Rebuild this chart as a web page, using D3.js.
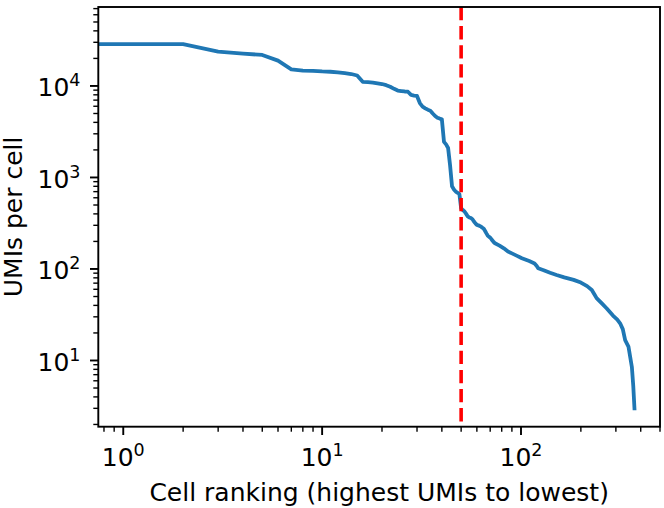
<!DOCTYPE html>
<html>
<head>
<meta charset="utf-8">
<script src="https://cdn.jsdelivr.net/npm/d3@7"></script>
<style>
  html, body { margin: 0; padding: 0; background: #fff; }
  svg { display: block; }
  text { font-family: "DejaVu Sans", sans-serif; fill: #000; }
</style>
</head>
<body>
<script>
// ---- data ----
const ranks = [0, 1, 2, 3, 4, 5, 6, 7, 8, 9, 10, 11, 12, 13, 14, 15, 16, 17, 18, 19, 20,
  21, 22, 23, 24, 25, 26, 27, 28, 29, 30, 31, 32, 33, 34, 35, 36, 37, 38, 39, 40,
  41, 42, 43, 44, 45, 46, 47, 48, 49, 50, 51, 52, 53, 54, 55, 56, 57, 58, 59, 60,
  61, 62, 63, 64, 65, 66, 67, 68, 69, 70, 71, 72, 73, 74, 78, 82, 86, 90, 95, 101,
  110, 117, 120, 122, 130, 140, 151, 165, 184, 200, 215, 227, 235, 240, 255, 270,
  290, 305, 315, 325, 334, 347, 361, 367, 372];
const umis = [28600, 28600, 28600, 23700, 22600, 21800, 18900, 15200, 14700, 14600, 14400, 14300, 14100, 13800, 13500, 13000, 11100, 11000, 10900, 10700, 10500,
  10200, 9800, 9300, 8900, 8800, 8700, 8650, 7980, 7850, 7780, 6500, 5950, 5700, 5500, 5370, 5000, 4700, 4500, 4400, 4330,
  2450, 2300, 2100, 1350, 800, 740, 700, 680, 660, 460, 440, 425, 400, 375, 365, 360, 350, 330, 315, 303,
  300, 295, 290, 282, 275, 260, 245, 232, 225, 220, 212, 203, 196, 191, 180, 168, 155, 148, 140, 131,
  122, 115, 108, 102, 97, 91, 86, 81, 76, 71, 65, 59, 52, 48, 42, 37,
  31, 28, 25.5, 22, 16.7, 14.2, 8.5, 5.2, 3.0];
const cutoffRank = [50];
const xTickValues = [1, 10, 100];
const xTickExps = ["0", "1", "2"];
const yTickValues = [10, 100, 1000, 10000];
const yTickExps = ["1", "2", "3", "4"];
const xDomain = [0.749, 500];
const yDomain = [1.89, 72900];
const xLabel = "Cell ranking (highest UMIs to lowest)";
const yLabel = "UMIs per cell";

// ---- layout ----
const W = 664, H = 508;
const plot = { left: 98.3, right: 660, top: 7, bottom: 426.7 };

const svg = d3.select("body").append("svg").attr("width", W).attr("height", H);

const x = d3.scaleLog().domain(xDomain).range([plot.left, plot.right]);
const y = d3.scaleLog().domain(yDomain).range([plot.bottom, plot.top]);

const clipId = "plotclip";
svg.append("clipPath").attr("id", clipId).append("rect")
  .attr("x", plot.left).attr("y", plot.top)
  .attr("width", plot.right - plot.left).attr("height", plot.bottom - plot.top);

// minor tick values
function minorTicks(domain) {
  const out = [];
  const lo = Math.floor(Math.log10(domain[0])), hi = Math.ceil(Math.log10(domain[1]));
  for (let e = lo; e <= hi; e++) {
    for (let m = 2; m <= 9; m++) {
      const v = m * Math.pow(10, e);
      if (v >= domain[0] && v <= domain[1]) out.push(v);
    }
  }
  return out;
}

// ---- data line ----
const pts = ranks.map((r, i) => ({ r, v: umis[i] }));
const line = d3.line()
  .x(d => x(Math.max(d.r, xDomain[0])))
  .y(d => y(d.v));

const g = svg.append("g").attr("clip-path", `url(#${clipId})`);
g.append("path")
  .datum(pts)
  .attr("d", line)
  .attr("fill", "none")
  .attr("stroke", "#1f77b4")
  .attr("stroke-width", 3.8)
  .attr("stroke-linejoin", "round")
  .attr("stroke-linecap", "square");

// cutoff vertical dashed line
g.selectAll("line.cut").data(cutoffRank).enter().append("line")
  .attr("class", "cut")
  .attr("x1", d => x(d)).attr("x2", d => x(d))
  .attr("y1", plot.top).attr("y2", plot.bottom)
  .attr("stroke", "#ff0000")
  .attr("stroke-width", 3.6)
  .attr("stroke-dasharray", "13.3,5.8");

// ---- axes ----
const majorLen = 8.3, minorLen = 5;
const axisG = svg.append("g");

// x ticks
axisG.selectAll("line.xmaj").data(xTickValues).enter().append("line")
  .attr("x1", d => x(d)).attr("x2", d => x(d))
  .attr("y1", plot.bottom).attr("y2", plot.bottom + majorLen)
  .attr("stroke", "#000").attr("stroke-width", 1.9);
axisG.selectAll("line.xmin").data(minorTicks(xDomain)).enter().append("line")
  .attr("x1", d => x(d)).attr("x2", d => x(d))
  .attr("y1", plot.bottom).attr("y2", plot.bottom + minorLen)
  .attr("stroke", "#000").attr("stroke-width", 1.4);

// y ticks
axisG.selectAll("line.ymaj").data(yTickValues).enter().append("line")
  .attr("y1", d => y(d)).attr("y2", d => y(d))
  .attr("x1", plot.left).attr("x2", plot.left - majorLen)
  .attr("stroke", "#000").attr("stroke-width", 1.9);
axisG.selectAll("line.ymin").data(minorTicks(yDomain)).enter().append("line")
  .attr("y1", d => y(d)).attr("y2", d => y(d))
  .attr("x1", plot.left).attr("x2", plot.left - minorLen)
  .attr("stroke", "#000").attr("stroke-width", 1.4);

// spines
svg.append("rect")
  .attr("x", plot.left).attr("y", plot.top)
  .attr("width", plot.right - plot.left).attr("height", plot.bottom - plot.top)
  .attr("fill", "none").attr("stroke", "#000").attr("stroke-width", 1.9);

// tick labels
const fs = 25, supFs = 17.5;
xTickValues.forEach((v, i) => {
  const t = svg.append("text")
    .attr("x", x(v)).attr("y", 466)
    .attr("text-anchor", "middle")
    .style("font-size", fs + "px");
  t.append("tspan").text("10");
  t.append("tspan").attr("dy", -10).style("font-size", supFs + "px").text(xTickExps[i]);
});
yTickValues.forEach((v, i) => {
  const t = svg.append("text")
    .attr("x", 80.5).attr("y", y(v) + 10.5)
    .attr("text-anchor", "end")
    .style("font-size", fs + "px");
  t.append("tspan").text("10");
  t.append("tspan").attr("dy", -10).style("font-size", supFs + "px").text(yTickExps[i]);
});

// axis labels
svg.append("text")
  .attr("x", (plot.left + plot.right) / 2).attr("y", 500.5)
  .attr("text-anchor", "middle")
  .style("font-size", fs + "px")
  .text(xLabel);
svg.append("text")
  .attr("transform", `translate(22,${(plot.top + plot.bottom) / 2}) rotate(-90)`)
  .attr("text-anchor", "middle")
  .style("font-size", fs + "px")
  .text(yLabel);
</script>
</body>
</html>
